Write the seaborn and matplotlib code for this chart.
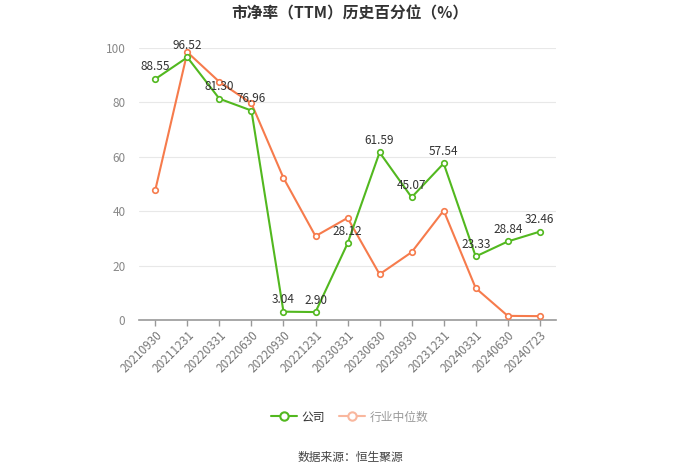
import matplotlib
matplotlib.use("Agg")
import matplotlib.pyplot as plt
import seaborn as sns
import pandas as pd
from matplotlib.lines import Line2D

dates = ["20210930", "20211231", "20220331", "20220630", "20220930", "20221231",
         "20230331", "20230630", "20230930", "20231231", "20240331", "20240630", "20240723"]
company = [88.55, 96.52, 81.30, 76.96, 3.04, 2.90, 28.12, 61.59, 45.07, 57.54, 23.33, 28.84, 32.46]
industry = [47.8, 98.4, 87.5, 79.6, 52.2, 30.8, 37.5, 16.8, 24.9, 40.2, 11.7, 1.5, 1.4]
yticks = [0, 20, 40, 60, 80, 100]

sns.set_theme(style="white")
plt.rcParams['font.family'] = ['Noto Sans CJK SC', 'DejaVu Sans']

green = "#52b81f"
orange = "#f67b4c"

fig = plt.figure(figsize=(7, 4.74), dpi=100)
ax = fig.add_axes([0.199, 0.325, 0.595, 0.574])

df = pd.DataFrame({"x": range(len(dates)), "公司": company, "行业中位数": industry})
sns.lineplot(data=df, x="x", y="行业中位数", ax=ax, color=orange, lw=1.5,
             marker="o", markersize=4, markerfacecolor="white",
             markeredgecolor=orange, markeredgewidth=1.2, zorder=3)
sns.lineplot(data=df, x="x", y="公司", ax=ax, color=green, lw=1.5,
             marker="o", markersize=4, markerfacecolor="white",
             markeredgecolor=green, markeredgewidth=1.2, zorder=4)

for i, v in enumerate(company):
    ax.annotate(f"{v:.2f}", (i, v), xytext=(0, 4), textcoords="offset points",
                ha="center", va="bottom", fontsize=8.5, color="#333333", zorder=5)

ax.set_xlim(-0.5, len(dates) - 0.5)
ax.set_ylim(0, 100)
ax.set_yticks(yticks)
ax.set_yticklabels([str(t) for t in yticks], fontsize=8.5, color="#888888")
ax.set_xticks(range(len(dates)))
ax.set_xticklabels(dates, rotation=45, ha="right", rotation_mode="anchor",
                   fontsize=8.5, color="#777777")
ax.set_xlabel("")
ax.set_ylabel("")
ax.grid(axis="y", color="#e8e8e8", lw=0.8)
ax.set_axisbelow(True)
for s in ["top", "right", "left"]:
    ax.spines[s].set_visible(False)
ax.spines["bottom"].set_color("#999999")
ax.spines["bottom"].set_linewidth(1.2)
ax.tick_params(axis="x", length=4, color="#999999", width=1, pad=2, direction="out", bottom=True)
ax.tick_params(axis="y", length=0, pad=10)

fig.text(0.5, 0.972, "市净率（TTM）历史百分位（%）", ha="center", va="center",
         fontsize=11.3, fontweight="bold", color="#333333")

handles = [
    Line2D([0], [0], color=green, lw=1.5, marker="o", markersize=6,
           markerfacecolor="white", markeredgecolor=green, markeredgewidth=1.5),
    Line2D([0], [0], color="#f9b79e", lw=1.5, marker="o", markersize=6,
           markerfacecolor="white", markeredgecolor="#f9b79e", markeredgewidth=1.5),
]
leg = fig.legend(handles, ["公司", "行业中位数"], loc="center", bbox_to_anchor=(0.5, 0.12),
                 ncol=2, frameon=False, fontsize=8.5, handlelength=2.2,
                 columnspacing=1.2, handletextpad=0.4)
leg.get_texts()[0].set_color("#333333")
leg.get_texts()[1].set_color("#999999")

fig.text(0.5, 0.034, "数据来源：恒生聚源", ha="center", va="center", fontsize=8.5, color="#444444")

fig.savefig("out.png", dpi=100)
